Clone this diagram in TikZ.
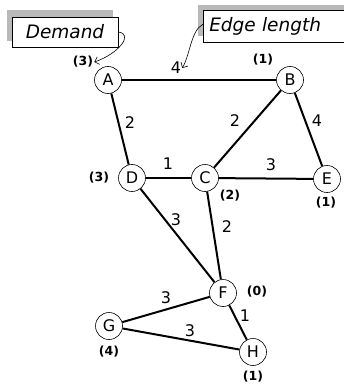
\documentclass[tikz,border=0pt]{standalone}
\usepackage{fontspec}
\setmainfont{DejaVu Sans}
\usepackage{tikz}
\usetikzlibrary{positioning, calc, arrows.meta}

\begin{document}
\begin{tikzpicture}[
    x=1pt, y=-1pt,
    town/.style={circle, draw, semithick, fill=white, minimum size=27pt,
                 inner sep=0pt, font=\fontsize{16}{16}\selectfont},
    road/.style={line width=2pt},
    len/.style={font=\fontsize{16}{16}\selectfont, inner sep=1pt},
    dem/.style={font=\bfseries\fontsize{12.5}{12.5}\selectfont, inner sep=1pt},
    tag/.style={draw, semithick, fill=white, font=\itshape\fontsize{18.5}{18.5}\selectfont,
                inner xsep=6pt, inner ysep=3pt},
    pointer/.style={-{Straight Barb[length=4pt, width=8pt]}, semithick},
  ]
    \useasboundingbox (0,0) rectangle (344,385);

    % towns
    \node[town] (A) at (108,80)  {A};
    \node[town] (B) at (290,80)  {B};
    \node[town] (D) at (132,178) {D};
    \node[town] (C) at (205,178) {C};
    \node[town] (E) at (327,179) {E};
    \node[town] (F) at (223,293) {F};
    \node[town] (G) at (109,326) {G};
    \node[town] (H) at (253,352) {H};

    % roads
    \draw[road] (A) -- (B);
    \draw[road] (A) -- (D);
    \draw[road] (B) -- (C);
    \draw[road] (B) -- (E);
    \draw[road] (D) -- (C);
    \draw[road] (C) -- (E);
    \draw[road] (D) -- (F);
    \draw[road] (C) -- (F);
    \draw[road] (G) -- (F);
    \draw[road] (G) -- (H);
    \draw[road] (F) -- (H);

    % edge lengths
    \node[len] (lAB) at (176,68)  {4};
    \node[len] (lAD) at (130,123) {2};
    \node[len] (lBC) at (235,121) {2};
    \node[len] (lBE) at (317,121) {4};
    \node[len] (lDC) at (168,164) {1};
    \node[len] (lCE) at (271,165) {3};
    \node[len] (lDF) at (176,220) {3};
    \node[len] (lCF) at (227,227) {2};
    \node[len] (lGF) at (166,298) {3};
    \node[len] (lGH) at (190,331) {3};
    \node[len] (lFH) at (245,316) {1};

    % demands
    \node[dem] (dA) at (83,62)   {(3)};
    \node[dem] (dB) at (263,60)  {(1)};
    \node[dem] (dD) at (99,178)  {(3)};
    \node[dem] (dC) at (230,196) {(2)};
    \node[dem] (dE) at (326,203) {(1)};
    \node[dem] (dF) at (257,292) {(0)};
    \node[dem] (dG) at (109,352) {(4)};
    \node[dem] (dH) at (253,377) {(1)};

    % legend boxes with shadows
    \fill[gray!55] (7,10) rectangle (113,41);
    \node[tag, minimum width=106pt, minimum height=30pt] (demand) at (65,32) {Demand};
    \fill[gray!55] (198,5) rectangle (350,36);
    \node[tag, minimum height=32pt, text width=136pt, align=left, anchor=north west]
      (edge) at (203,10) {Edge length};

    \draw[pointer] (demand.east) .. controls +(16,2) and +(24,-8) .. (dA.east);
    \draw[pointer] ($(edge.west)+(0,-2)$) .. controls +(-12,6) and +(8,-14) .. (lAB.east);
\end{tikzpicture}
\end{document}
